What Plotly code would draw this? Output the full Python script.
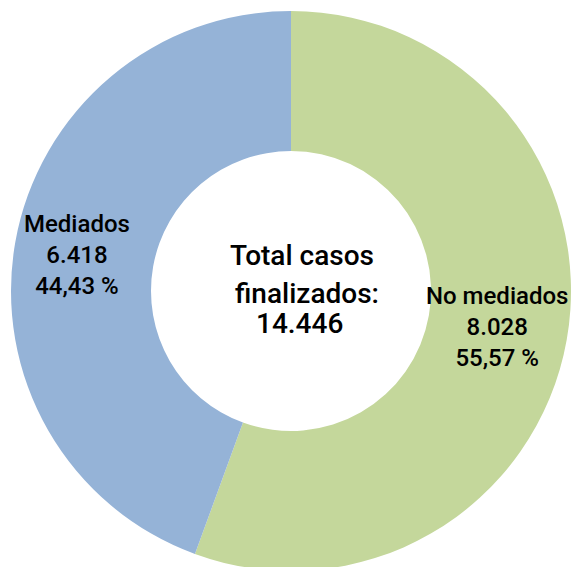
import plotly.graph_objects as go

labels = ["No mediados", "Mediados"]
values = [8028, 6418]
colors = ["#C4D79B", "#95B3D7"]
center_lines = ["Total casos", "finalizados:"]

W, H = 576, 575
CX, CY, R = 291, 291, 280

def fmt_int(v):
    return f"{v:,}".replace(",", ".")

def fmt_pct(p):
    return f"{p:.2f}".replace(".", ",") + " %"

total = sum(values)

fig = go.Figure(go.Pie(
    labels=labels, values=values, sort=False, direction="clockwise", rotation=0,
    hole=0.5, marker=dict(colors=colors, line=dict(width=0)),
    textinfo="none", hoverinfo="label+value+percent", showlegend=False,
    domain=dict(x=[(CX - R) / W, (CX + R) / W], y=[(H - CY - R) / H, (H - CY + R) / H]),
))

def px(x, y):
    return x / W, (H - y) / H

font = dict(family="Roboto", color="black", weight=500)
annos = []
label_pos = {"No mediados": (497, 327), "Mediados": (77, 255)}
for lab, v in zip(labels, values):
    x, y = px(*label_pos[lab])
    txt = f"{lab}<br>{fmt_int(v)}<br>{fmt_pct(100 * v / total)}"
    annos.append(dict(x=x, y=y, xref="paper", yref="paper", text=txt, showarrow=False,
                      xanchor="center", yanchor="middle", font=dict(size=24, **font)))

center_texts = center_lines + [fmt_int(total)]
center_y = [256, 293, 323]
center_x = [302, 307, 299]
for t, xx, yy in zip(center_texts, center_x, center_y):
    x, y = px(xx, yy)
    annos.append(dict(x=x, y=y, xref="paper", yref="paper", text=t, showarrow=False,
                      xanchor="center", yanchor="middle", font=dict(size=28, **font)))

fig.update_layout(width=W, height=H, margin=dict(l=0, r=0, t=0, b=0),
                  paper_bgcolor="white", plot_bgcolor="white", annotations=annos)

fig.write_html("out.html", config={"displayModeBar": False},
               post_script="document.body.style.margin='0';document.body.style.overflow='hidden';document.documentElement.style.overflow='hidden';")
